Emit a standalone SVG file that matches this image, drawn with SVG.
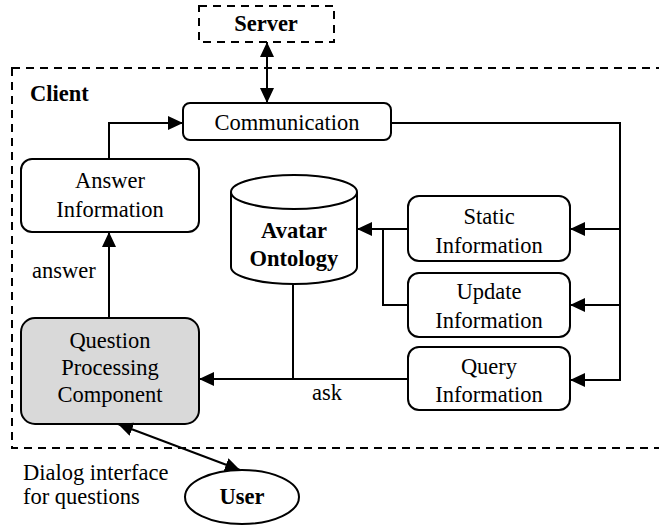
<svg xmlns="http://www.w3.org/2000/svg" width="659" height="525" viewBox="0 0 659 525" font-family="'Times New Roman', 'Liberation Serif', serif">
<style>
text{font-family:"Times New Roman","Liberation Serif",serif;font-size:22.5px;fill:#000;text-anchor:middle}
.b{font-weight:bold}
.l{text-anchor:start}
.box{fill:#fff;stroke:#000;stroke-width:2}
.dash{fill:none;stroke:#000;stroke-width:2;stroke-dasharray:8,6}
.c{fill:none;stroke:#000;stroke-width:2}
</style>
<defs>
<marker id="ah" viewBox="0 0 15 14" refX="15" refY="7" markerWidth="15" markerHeight="14" markerUnits="userSpaceOnUse" orient="auto-start-reverse">
<path d="M0,0 L15,7 L0,14 z" fill="#000"/>
</marker>
</defs>
<g id="client">
<rect class="dash" x="12" y="68" width="660" height="380"/>
<text class="b l" x="30" y="101">Client</text>
</g>
<g id="server">
<rect class="dash" x="199" y="6" width="135" height="36"/>
<text class="b" x="266" y="31">Server</text>
</g>
<g id="communication">
<rect class="box" x="183" y="103" width="208" height="37" rx="7"/>
<text x="287" y="130">Communication</text>
</g>
<g id="answer-information">
<rect class="box" x="21" y="159" width="178" height="73" rx="11"/>
<text x="110" y="188">Answer</text>
<text x="110" y="217">Information</text>
</g>
<g id="avatar-ontology">
<path class="box" d="M231,192 L231,267 A63,17 0 0 0 357,267 L357,192"/>
<ellipse class="box" cx="294" cy="192" rx="63" ry="17"/>
<text class="b" x="294" y="238">Avatar</text>
<text class="b" x="294" y="266">Ontology</text>
</g>
<g id="static-information">
<rect class="box" x="408" y="196" width="162" height="65" rx="11"/>
<text x="489" y="224">Static</text>
<text x="489" y="253">Information</text>
</g>
<g id="update-information">
<rect class="box" x="408" y="273" width="162" height="64" rx="11"/>
<text x="489" y="299">Update</text>
<text x="489" y="328">Information</text>
</g>
<g id="query-information">
<rect class="box" x="408" y="347" width="162" height="63" rx="11"/>
<text x="489" y="374">Query</text>
<text x="489" y="402">Information</text>
</g>
<g id="question-processing">
<rect class="box" x="21" y="318" width="178" height="106" rx="14" style="fill:#d9d9d9"/>
<text x="110" y="348">Question</text>
<text x="110" y="375">Processing</text>
<text x="110" y="402">Component</text>
</g>
<g id="user">
<ellipse class="box" cx="242" cy="497" rx="57" ry="27"/>
<text class="b" x="242" y="504">User</text>
</g>
<g id="connectors">
<line class="c" x1="267" y1="42" x2="267" y2="103" marker-start="url(#ah)" marker-end="url(#ah)"/>
<polyline class="c" points="109,159 109,123 183,123" marker-end="url(#ah)"/>
<polyline class="c" points="391,123 620,123 620,380 570,380" marker-end="url(#ah)"/>
<line class="c" x1="620" y1="229" x2="570" y2="229" marker-end="url(#ah)"/>
<line class="c" x1="620" y1="305" x2="570" y2="305" marker-end="url(#ah)"/>
<line class="c" x1="408" y1="229" x2="357" y2="229" marker-end="url(#ah)"/>
<polyline class="c" points="408,305 383,305 383,229"/>
<line class="c" x1="408" y1="379" x2="199" y2="379" marker-end="url(#ah)"/>
<line class="c" x1="293" y1="284" x2="293" y2="379"/>
<line class="c" x1="109" y1="318" x2="109" y2="232" marker-end="url(#ah)"/>
<line class="c" x1="118" y1="424" x2="240" y2="470" marker-start="url(#ah)" marker-end="url(#ah)"/>
<text class="l" x="32" y="278">answer</text>
<text class="l" x="312" y="400">ask</text>
<text class="l" x="23" y="480">Dialog interface</text>
<text class="l" x="23" y="504">for questions</text>
</g>
</svg>
